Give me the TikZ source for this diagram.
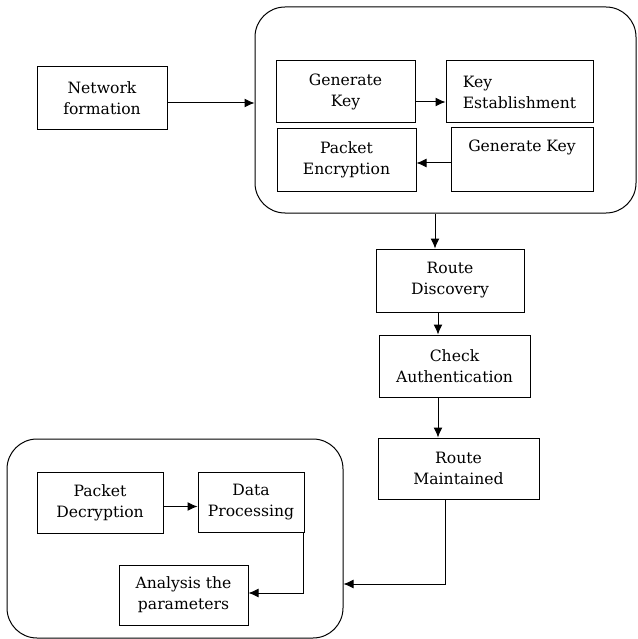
\documentclass[tikz,border=0pt]{standalone}
\usepackage{fontspec}
\newfontfamily\diagserif{DejaVu Serif}
\usetikzlibrary{arrows.meta}
\begin{document}
\begin{tikzpicture}[x=1pt,y=-1pt,
  every node/.style={font=\diagserif\fontsize{15.6}{21}\selectfont},
  box/.style={draw, line width=1pt, inner sep=0pt, align=center},
  group/.style={draw, line width=1pt, rounded corners=30pt, inner sep=0pt},
  arr/.style={line width=1pt, -{Latex[length=10pt,width=9pt]}}]
\useasboundingbox (0,0) rectangle (637,639);
% groups
\node[group, minimum width=381pt, minimum height=206pt] (big1) at (445.5,110) {};
\node[group, minimum width=336pt, minimum height=199pt] (big2) at (175,538.5) {};
% nodes
\node[box, minimum width=130pt, minimum height=63pt] (nf) at (102,98.5) {Network\\formation};
\node[box, minimum width=139pt, minimum height=62pt] (gk1) at (345.5,92) {Generate\\Key};
\node[box, align=left, minimum width=147pt, minimum height=62pt] (ke) at (519.5,92) {Key\\Establishment};
\node[box, minimum width=139pt, minimum height=62pt] (pe) at (346.5,160) {Packet\\Encryption};
\node[box, minimum width=142pt, minimum height=63pt] (gk2) at (522,159.5) {Generate Key\\\strut};
\node[box, minimum width=148pt, minimum height=63pt] (rd) at (450,280.5) {Route\\Discovery};
\node[box, minimum width=151pt, minimum height=62pt] (ca) at (454.5,366) {Check\\Authentication};
\node[box, minimum width=161pt, minimum height=61pt] (rm) at (458.5,468.5) {Route\\Maintained};
\node[box, minimum width=126pt, minimum height=61pt] (pd) at (100,502.5) {Packet\\Decryption};
\node[box, minimum width=106pt, minimum height=60pt] (dp) at (251,502) {Data\\Processing};
\node[box, minimum width=129pt, minimum height=60pt] (ap) at (183.5,595) {Analysis the\\parameters};
% connectors
\draw[arr] ([yshift=-4.5pt]nf.east) -- ([yshift=-4.5pt]nf.east -| big1.west);
\draw[arr] ([yshift=-10pt]gk1.east) -- ([yshift=-10pt]gk1.east -| ke.west);
\draw[arr] ([yshift=-3.5pt]gk2.west) -- ([yshift=-3.5pt]gk2.west -| pe.east);
\coordinate (c1) at ([xshift=-10.5pt]big1.south);
\draw[arr] (c1) -- (c1 |- rd.north);
\coordinate (c2) at ([xshift=-12pt]rd.south);
\draw[arr] (c2) -- (c2 |- ca.north);
\coordinate (c3) at ([xshift=-16.5pt]ca.south);
\draw[arr] (c3) -- (c3 |- rm.north);
\coordinate (c4) at ([xshift=-13.5pt]rm.south);
\coordinate (c5) at ([yshift=-45.5pt]big2.east);
\draw[arr] (c4) -- (c4 |- c5) -- (c5);
\draw[arr] ([yshift=-4pt]pd.east) -- ([yshift=-4pt]pd.east -| dp.west);
\coordinate (c6) at ([xshift=-1pt]dp.south east);
\coordinate (c7) at ([yshift=2pt]ap.east);
\draw[arr] (c6) -- (c6 |- c7) -- (c7);
\end{tikzpicture}
\end{document}
